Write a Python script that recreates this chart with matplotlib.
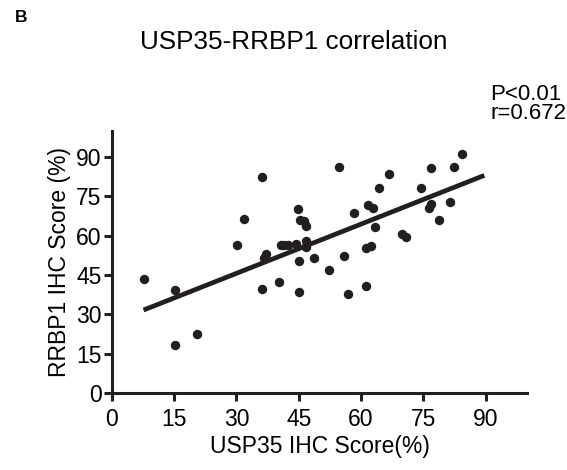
import numpy as np
import matplotlib.pyplot as plt

plt.rcParams['font.family'] = ['Liberation Sans', 'DejaVu Sans']

# значення
usp35 = [7.6, 15.2, 15.2, 20.6, 30.1, 31.7, 36.2, 36.2, 36.6, 37.0, 40.2, 40.7,
         41.5, 42.3, 44.3, 44.9, 45.0, 45.0, 45.4, 46.2, 46.7, 46.7, 46.7, 48.7,
         52.3, 54.8, 55.8, 56.8, 58.3, 61.3, 61.3, 61.7, 62.3, 62.9, 63.4, 64.3,
         66.8, 69.9, 70.9, 74.4, 76.4, 76.9, 76.9, 78.9, 81.4, 82.4, 84.4]
rrbp1 = [43.4, 39.3, 18.3, 22.4, 56.3, 66.5, 82.5, 39.8, 51.4, 53.0, 42.3, 56.3,
         56.3, 56.3, 56.8, 70.4, 50.3, 38.6, 66.0, 65.7, 63.8, 58.0, 55.6, 51.4,
         46.8, 86.3, 52.2, 37.9, 68.8, 40.9, 55.3, 71.7, 56.0, 70.7, 63.3, 78.3,
         83.4, 60.8, 59.4, 78.3, 70.8, 72.3, 85.8, 65.9, 72.8, 86.3, 91.4]
ticks = [0, 15, 30, 45, 60, 75, 90]
# лінія регресії (параметри)
fit_slope = 0.626
fit_intercept = 26.9
line_x = [7.6, 89.7]

fig = plt.figure(figsize=(5.67, 4.70), dpi=100)
ax = fig.add_axes([0.1975, 0.1638, 0.732, 0.5575])

ax.scatter(usp35, rrbp1, s=46, color='#231f20', zorder=3, linewidths=0)

lx = np.array(line_x)
ax.plot(lx, fit_slope * lx + fit_intercept, color='#231f20', lw=3.4,
        solid_capstyle='butt', zorder=2)

ax.set_xlim(0, 100)
ax.set_ylim(0, 100)
ax.set_xticks(ticks)
ax.set_yticks(ticks)
for s in ['top', 'right']:
    ax.spines[s].set_visible(False)
for s in ['left', 'bottom']:
    ax.spines[s].set_linewidth(2.2)
    ax.spines[s].set_color('#231f20')
ax.tick_params(width=2.2, length=5.5, labelsize=16.5, color='#231f20')
ax.tick_params(axis='x', pad=5.5)
ax.tick_params(axis='y', pad=2)

ax.set_xlabel('USP35 IHC Score(%)', fontsize=16.5, labelpad=3)
ax.set_ylabel('RRBP1 IHC Score (%)', fontsize=16.5, labelpad=4)

fig.text(294 / 567, 1 - 42 / 470, 'USP35-RRBP1 correlation', fontsize=18.8,
         ha='center', va='center')
fig.text(15 / 567, 1 - 18 / 470, 'B', fontsize=12.5, fontweight='bold', va='center')
fig.text(490 / 567, 1 - 84 / 470, 'P<0.01\nr=0.672', fontsize=16, va='top',
         linespacing=0.85)

plt.savefig('out.png', dpi=100)
